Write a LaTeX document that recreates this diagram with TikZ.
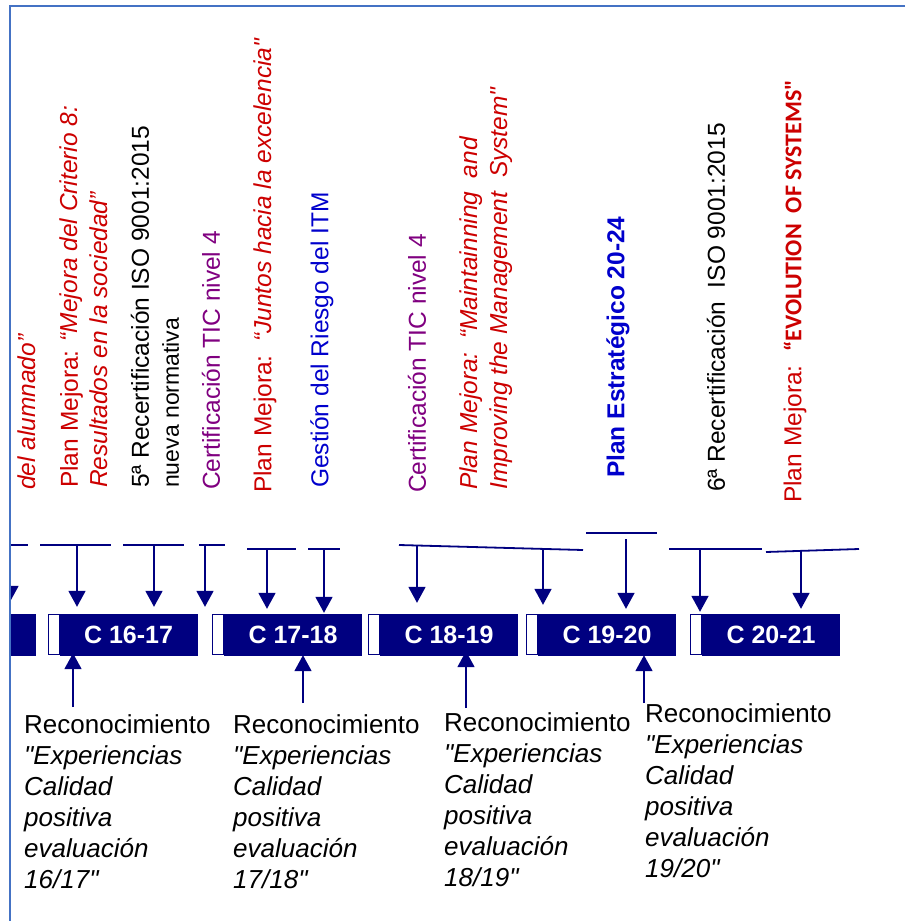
\documentclass[tikz,border=0pt]{standalone}
\usepackage{fontspec}
\setmainfont{Liberation Sans}
\newfontfamily\narrowbold{Carlito}
\usetikzlibrary{positioning, arrows.meta}
\definecolor{navy}{HTML}{000080}
\definecolor{mred}{HTML}{CC0000}
\definecolor{tpurple}{HTML}{800080}
\definecolor{tblue}{HTML}{0000CC}
\definecolor{frameblue}{HTML}{4472C4}
\newcommand{\dq}{\textquotedbl}

\begin{document}
\begin{tikzpicture}[
  x=1pt, y=-1pt,
  bar/.style={fill=navy, draw=navy, minimum width=137pt, minimum height=41pt, inner sep=0pt,
    text=white, font=\fontsize{25}{30}\selectfont\bfseries},
  notch/.style={fill=white, draw=navy, line width=1.2pt, minimum width=11pt, minimum height=40pt, inner sep=0pt},
  vtext/.style={rotate=90, anchor=west, inner sep=0pt, align=left, font=\fontsize{24.5}{30}\selectfont},
  rec/.style={anchor=north west, inner sep=0pt, align=left, font=\fontsize{26}{31}\selectfont},
  brk/.style={draw=navy, line width=1.8pt},
  arr/.style={draw=navy, line width=1.8pt, -{Triangle[width=17pt,length=16pt]}}
]
  \useasboundingbox (0,0) rectangle (905,921);

  % course bars
  \node[bar] (c1617) at (128.5,634.5) {C 16-17};
  \node[bar] (c1718) at (293,634.5) {C 17-18};
  \node[bar] (c1819) at (449,634.5) {C 18-19};
  \node[bar] (c1920) at (607,634.5) {C 19-20};
  \node[bar] (c2021) at (771,634.5) {C 20-21};
  \node[notch, left=0pt of c1617] (n1617) {};
  \node[notch, left=0pt of c1718] (n1718) {};
  \node[notch, left=0pt of c1819] (n1819) {};
  \node[notch, left=0pt of c1920] (n1920) {};
  \node[notch, left=0pt of c2021] (n2021) {};

  % events above the bars
  \node[vtext, text=mred] (alumnado) at (27,490) {\textit{del alumnado”}};
  \node[vtext, text=mred] (mejora8) at (84,488)
    {Plan Mejora: \textit{“Mejora del Criterio 8:}\\\textit{Resultados en la sociedad”}};
  \node[vtext] (iso5) at (155,488)
    {5ª Recertificación ISO 9001:2015\\{\fontsize{23}{30}\selectfont nueva normativa}};
  \node[vtext, text=tpurple] (tic17) at (211,490) {Certificación TIC nivel 4};
  \node[vtext, text=mred] (juntos) at (265,493) {Plan Mejora:\ \ \textit{“Juntos hacia la excelencia\dq}};
  \node[vtext, text=tblue] (riesgo) at (322,488) {Gestión del Riesgo del ITM};
  \node[vtext, text=tpurple] (tic18) at (417,493) {Certificación TIC nivel 4};
  \node[vtext, text=mred] (maint) at (486,490)
    {\textit{Plan Mejora:\ \ “Maintainning\ \ and}\\\textit{Improving the Management\ \ System\dq}};
  \node[vtext, text=tblue] (estrat) at (618,478) {\bfseries Plan Estratégico 20-24};
  \node[vtext] (iso6) at (716,492) {6ª Recertificación\ \ ISO 9001:2015};
  \node[vtext, text=mred] (evol) at (795,503)
    {Plan Mejora:\ \ {\narrowbold\bfseries\fontsize{24}{30}\selectfont “EVOLUTION\ \ OF SYSTEMS\dq}};

  % recognitions below the bars
  \node[rec] (r1617) at (24,714)
    {Reconocimiento\\\textit{\dq Experiencias}\\\textit{Calidad}\\\textit{positiva}\\\textit{evaluación}\\\textit{16/17\dq}};
  \node[rec] (r1718) at (233,714)
    {Reconocimiento\\\textit{\dq Experiencias}\\\textit{Calidad}\\\textit{positiva}\\\textit{evaluación}\\\textit{17/18\dq}};
  \node[rec] (r1819) at (444,712)
    {Reconocimiento\\\textit{\dq Experiencias}\\\textit{Calidad}\\\textit{positiva}\\\textit{evaluación}\\\textit{18/19\dq}};
  \node[rec] (r1920) at (645,703)
    {Reconocimiento\\\textit{\dq Experiencias}\\\textit{Calidad}\\\textit{positiva}\\\textit{evaluación}\\\textit{19/20\dq}};

  % brackets and arrows down
  \begin{scope}
    \clip (10,0) rectangle (905,921);
    \node[bar] (c1516) at (-33.5,634.5) {};
    \coordinate (d0) at (10,545);
    \draw[brk] (10,545) -- (28,545);
    \draw[arr, shorten >=12pt] (d0) -- (d0 |- c1516.north);
  \end{scope}
  \coordinate (d1) at (77,545);
  \coordinate (d2) at (154,545);
  \coordinate (d3) at (205,545);
  \coordinate (d4) at (267,549);
  \coordinate (d5) at (324,549);
  \coordinate (d6) at (417,545.5);
  \coordinate (d7) at (543,549);
  \coordinate (d8) at (626,539);
  \coordinate (d9) at (700,549);
  \coordinate (d10) at (801,550);
  \draw[brk] (40,545) -- (111,545);
  \draw[brk] (123,545) -- (184,545);
  \draw[brk] (199,545) -- (225,545);
  \draw[brk] (247,549) -- (296,549);
  \draw[brk] (308,549) -- (340,549);
  \draw[brk] (399,545) -- (583,550);
  \draw[brk] (586,533) -- (657,533);
  \draw[brk] (669,549) -- (762,549);
  \draw[brk] (766,552) -- (859,549);
  \draw[arr, shorten >=7pt] (d1) -- (d1 |- c1617.north);
  \draw[arr, shorten >=7pt] (d2) -- (d2 |- c1617.north);
  \draw[arr, shorten >=7pt] (d3) -- (d3 |- c1617.north);
  \draw[arr, shorten >=5pt] (d4) -- (d4 |- c1718.north);
  \draw[arr, shorten >=1pt] (d5) -- (d5 |- c1718.north);
  \draw[arr, shorten >=11pt] (d6) -- (d6 |- c1819.north);
  \draw[arr, shorten >=9pt] (d7) -- (d7 |- c1920.north);
  \draw[arr, shorten >=5pt] (d8) -- (d8 |- c1920.north);
  \draw[arr, shorten >=2pt] (d9) -- (d9 |- c2021.north);
  \draw[arr, shorten >=5pt] (d10) -- (d10 |- c2021.north);

  % arrows up
  \coordinate (u1) at (73,707);
  \coordinate (u2) at (303,703);
  \coordinate (u3) at (466,708);
  \coordinate (u4) at (644,703);
  \draw[arr, shorten >=-2pt] (u1) -- (u1 |- c1617.south);
  \draw[arr] (u2) -- (u2 |- c1718.south);
  \draw[arr, shorten >=-4pt] (u3) -- (u3 |- c1819.south);
  \draw[arr] (u4) -- (u4 |- c1920.south);

  % frame
  \draw[frameblue, line width=2.2pt] (905,6) -- (10,6) -- (10,921);
\end{tikzpicture}
\end{document}
